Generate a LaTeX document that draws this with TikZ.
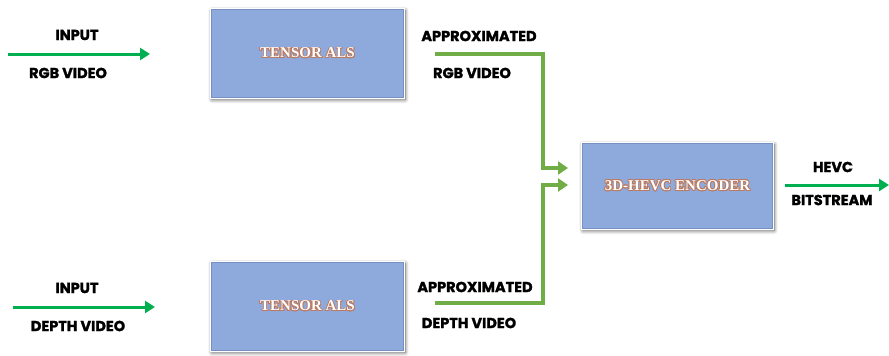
\documentclass[tikz,border=0pt]{standalone}
\usepackage{fontspec}
\setmainfont{Liberation Serif}
\newfontfamily\labelfont{Poppins}[BoldFeatures={FakeBold=1.6}]
\usepackage[copies]{contour}
\contourlength{0.8pt}
\contournumber{16}
\usetikzlibrary{arrows.meta,shadows.blur}

\definecolor{boxblue}{RGB}{142,169,219}
\definecolor{boxedge}{RGB}{118,144,194}
\definecolor{glow}{RGB}{188,122,96}
\definecolor{ingreen}{RGB}{0,176,80}
\definecolor{olive}{RGB}{112,173,71}

\tikzset{
  block/.style={draw=white, line width=2.5pt, fill=boxblue,
    minimum width=193pt, minimum height=89pt, inner sep=0pt,
    blur shadow={shadow xshift=1pt, shadow yshift=-1.5pt,
      shadow blur steps=8, shadow blur radius=4pt, shadow opacity=65},
    font=\bfseries\fontsize{15}{15}\selectfont},
  inner edge/.style={draw=boxedge, line width=0.8pt},
  lbl/.style={font=\labelfont\bfseries\fontsize{14.5}{15}\selectfont, inner sep=0pt},
  inarrow/.style={draw=ingreen, line width=3pt,
    -{Triangle[length=10pt,width=12pt]}},
  approx/.style={draw=olive, line width=3.2pt,
    -{Triangle[length=10pt,width=13pt]}},
}
% white lettering with a thin brown rim
\newcommand{\boxtext}[1]{\contour{glow}{\textcolor{white}{#1}}}

\begin{document}
\begin{tikzpicture}[x=1pt,y=-1pt]
  \useasboundingbox (0,0) rectangle (889,356);

  % processing blocks
  \node[block] (als1) at (307.5,53.5) {\boxtext{TENSOR ALS}};
  \node[block] (als2) at (307.5,306.5) {\boxtext{TENSOR ALS}};
  \node[block, minimum width=191pt, minimum height=86pt] (enc) at (677.5,186) {\boxtext{3D-HEVC ENCODER}};
  \foreach \b in {als1,als2,enc}
    \draw[inner edge] ([shift={(1.7pt,-1.7pt)}]\b.north west) rectangle ([shift={(-1.7pt,1.7pt)}]\b.south east);

  % input streams
  \coordinate (rgbin) at (8,54);
  \coordinate (rgbto) at (150,54);
  \coordinate (depin) at (13,307);
  \coordinate (depto) at (155,307);
  \draw[inarrow] (rgbin) -- (rgbto);
  \draw[inarrow] (depin) -- (depto);
  \node[lbl] (inp1) at (77,35) {INPUT};
  \node[lbl] (rgbv) at (68,73) {RGB VIDEO};
  \node[lbl] (inp2) at (77,288) {INPUT};
  \node[lbl] (depv) at (78,326) {DEPTH VIDEO};

  % approximated streams into the encoder
  \coordinate (a1) at (435,54);
  \coordinate (t1) at (568,168);
  \coordinate (a2) at (435,303);
  \coordinate (t2) at (568,185);
  \draw[approx] (a1) -| (543,168) -- (t1);
  \draw[approx] (a2) -| (543,185) -- (t2);
  \node[lbl] (ap1) at (479,36) {APPROXIMATED};
  \node[lbl] (rgba) at (472,73) {RGB VIDEO};
  \node[lbl] (ap2) at (475,287) {APPROXIMATED};
  \node[lbl] (depa) at (469,323) {DEPTH VIDEO};

  % encoder output
  \coordinate (o1) at (785,185);
  \coordinate (o2) at (889,185);
  \draw[inarrow] (o1) -- (o2);
  \node[lbl] (hevc) at (833,167) {HEVC};
  \node[lbl] (bits) at (832,200) {BITSTREAM};
\end{tikzpicture}
\end{document}
